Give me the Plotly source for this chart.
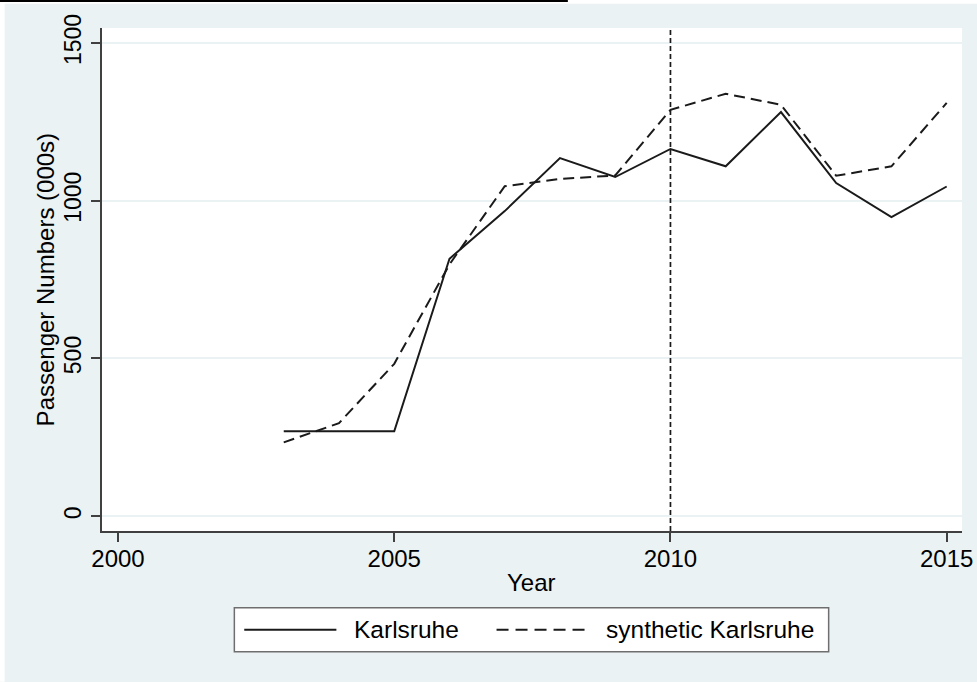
import plotly.graph_objects as go

# ---- data ----
years = [2003, 2004, 2005, 2006, 2007, 2008, 2009, 2010, 2011, 2012, 2013, 2014, 2015]
karlsruhe = [269, 269, 269, 816, 967, 1135, 1075, 1164, 1109, 1281, 1056, 948, 1045]
synthetic_karlsruhe = [234, 295, 483, 798, 1046, 1069, 1080, 1288, 1339, 1304, 1079, 1109, 1310]
x_tick_values = [2000, 2005, 2010, 2015]
y_tick_values = [0, 500, 1000, 1500]
treatment_year = 2010
series_names = ["Karlsruhe", "synthetic Karlsruhe"]
x_title = "Year"
y_title = "Passenger Numbers (000s)"

# ---- layout constants ----
W, H = 977, 682
L, R, T, B = 102.3, 962.0, 28.3, 531.3
BG = "#eaf2f3"
AX = "#404040"
FONT = "Liberation Sans, Arial, sans-serif"


def px_x(px):
    return (px - L) / (R - L)


def px_y(py):
    return (B - py) / (B - T)


fig = go.Figure()
fig.add_trace(go.Scatter(x=years, y=karlsruhe, mode="lines", name=series_names[0],
                         line=dict(color="#1a1a1a", width=2.0), showlegend=False))
fig.add_trace(go.Scatter(x=years, y=synthetic_karlsruhe, mode="lines", name=series_names[1],
                         line=dict(color="#1a1a1a", width=2.0, dash="11px,6px"), showlegend=False))

shapes = []
# vertical reference line
shapes.append(dict(type="line", xref="x", yref="paper", x0=treatment_year, x1=treatment_year,
                   y0=0, y1=1, line=dict(color="#1a1a1a", width=1.7, dash="5px,3px")))
# white outer strips and top black rule
shapes.append(dict(type="rect", xref="paper", yref="paper", x0=px_x(0), x1=px_x(W),
                   y0=px_y(4), y1=px_y(0), fillcolor="white", line=dict(width=0), layer="above"))
shapes.append(dict(type="rect", xref="paper", yref="paper", x0=px_x(0), x1=px_x(5),
                   y0=px_y(H), y1=px_y(0), fillcolor="white", line=dict(width=0), layer="above"))
shapes.append(dict(type="rect", xref="paper", yref="paper", x0=px_x(0), x1=px_x(568),
                   y0=px_y(2.2), y1=px_y(0), fillcolor="black", line=dict(width=0), layer="above"))
# legend box
shapes.append(dict(type="rect", xref="paper", yref="paper", x0=px_x(234.6), x1=px_x(828.7),
                   y0=px_y(652), y1=px_y(608), fillcolor="white",
                   line=dict(color="#6e6e6e", width=1.5), layer="above"))
# legend samples
shapes.append(dict(type="line", xref="paper", yref="paper", x0=px_x(244.5), x1=px_x(336.6),
                   y0=px_y(630), y1=px_y(630), line=dict(color="#1a1a1a", width=2.0), layer="above"))
shapes.append(dict(type="line", xref="paper", yref="paper", x0=px_x(496.7), x1=px_x(589.6),
                   y0=px_y(630), y1=px_y(630),
                   line=dict(color="#1a1a1a", width=2.0, dash="12px,7px"), layer="above"))

annotations = [
    dict(text=series_names[0], xref="paper", yref="paper", x=px_x(352), y=px_y(630),
         xanchor="left", yanchor="middle", showarrow=False,
         font=dict(family=FONT, size=24.5, color="black")),
    dict(text=series_names[1], xref="paper", yref="paper", x=px_x(604), y=px_y(630),
         xanchor="left", yanchor="middle", showarrow=False,
         font=dict(family=FONT, size=24.5, color="black")),
    # axis titles
    dict(text=x_title, xref="paper", yref="paper", x=px_x(532), y=px_y(583),
         xanchor="center", yanchor="middle", showarrow=False,
         font=dict(family=FONT, size=24, color="black")),
    dict(text=y_title, xref="paper", yref="paper", x=px_x(46), y=px_y(280),
         xanchor="center", yanchor="middle", showarrow=False, textangle=-90,
         font=dict(family=FONT, size=24, color="black")),
]

fig.update_layout(
    width=W, height=H,
    margin=dict(l=L, r=W - R, t=T, b=H - B, autoexpand=False),
    paper_bgcolor=BG, plot_bgcolor="white",
    font=dict(family=FONT, size=24, color="black"),
    shapes=shapes, annotations=annotations,
    showlegend=False,
)
fig.update_xaxes(
    range=[2000 - 16 / 55.22, 2015 + 15.3 / 55.22],
    tickvals=x_tick_values, ticktext=[str(v) for v in x_tick_values],
    ticks="outside", ticklen=9, tickwidth=1.5, tickcolor=AX,
    showline=True, linecolor=AX, linewidth=1.5,
    showgrid=False, zeroline=False,
    tickfont=dict(family=FONT, size=24, color="black"),
    ticklabelstandoff=-4,
    automargin=False,
)
fig.update_yaxes(
    range=[-(531.3 - 516.5) / 0.3155, (516.5 - 28.3) / 0.3155],
    tickvals=y_tick_values, ticktext=[str(v) for v in y_tick_values],
    tickangle=-90,
    ticks="outside", ticklen=9, tickwidth=1.5, tickcolor=AX,
    showline=True, linecolor=AX, linewidth=1.5,
    showgrid=True, gridcolor=BG, gridwidth=1.5, zeroline=False,
    tickfont=dict(family=FONT, size=23, color="black"),
    ticklabelstandoff=1,
    automargin=False,
)

fig.write_html("out.html", config={"displayModeBar": False},
               post_script="document.body.style.margin='0px';")
